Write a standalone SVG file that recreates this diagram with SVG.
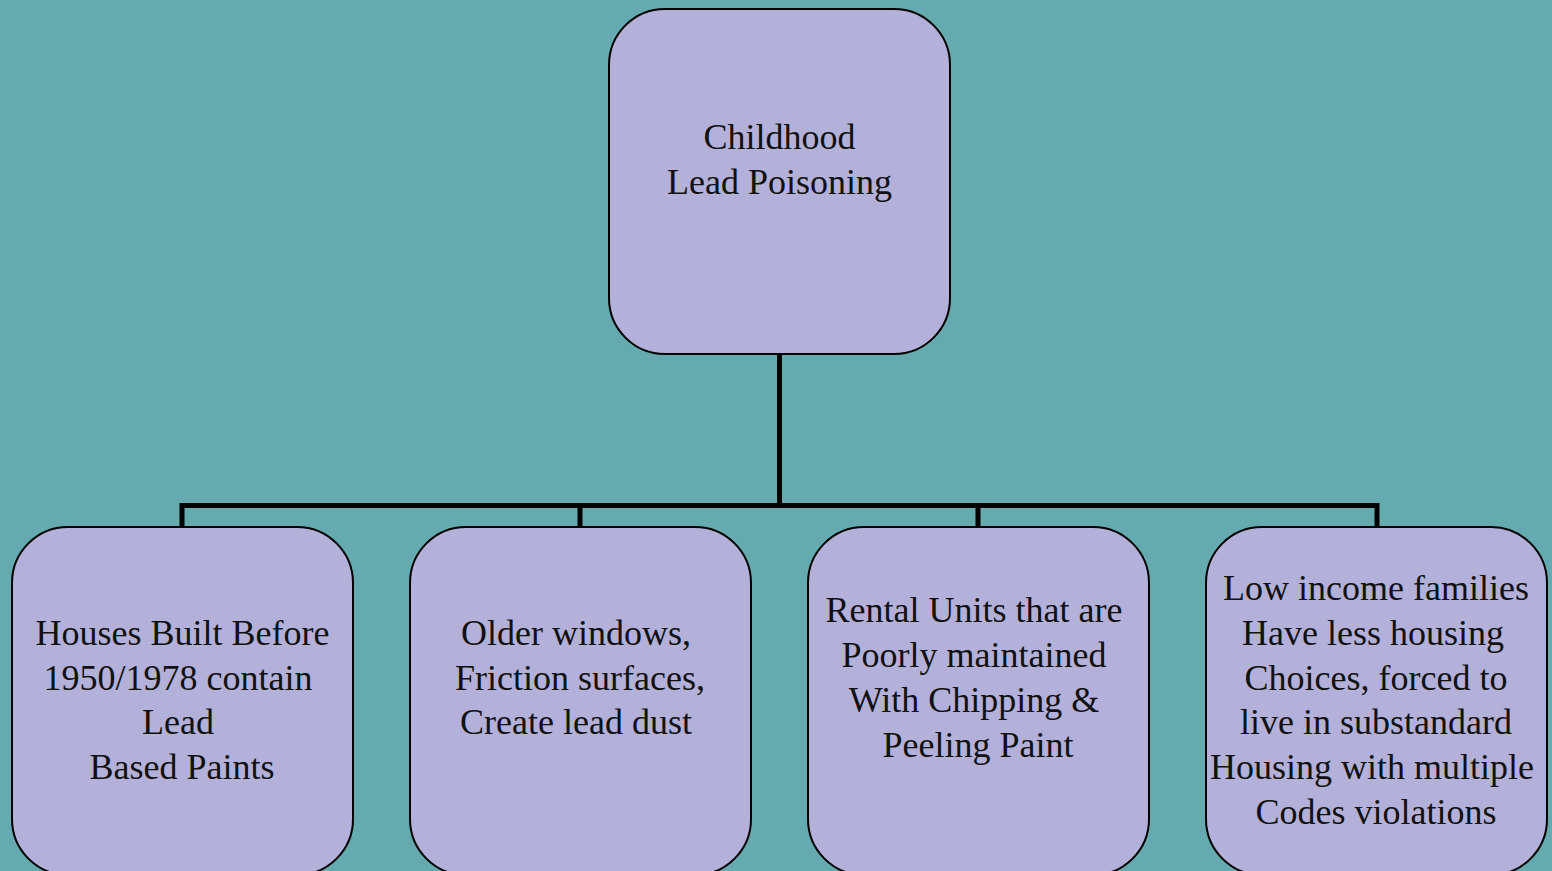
<svg xmlns="http://www.w3.org/2000/svg" width="1552" height="871" viewBox="0 0 1552 871">
  <style>
    .box { fill: #b3b0d9; stroke: #000; stroke-width: 2; }
    .lbl { font-family: "Liberation Serif", "DejaVu Serif", serif; font-size: 36px; fill: #111; text-anchor: middle; }
    .wire { fill: none; stroke: #000; stroke-width: 5; stroke-linecap: butt; stroke-linejoin: miter; }
  </style>
  <rect width="1552" height="871" fill="#64aaaf"/>

  <g id="connectors">
    <path class="wire" d="M779.5 354 V505.5"/>
    <path class="wire" d="M182 527 V505.5 H1377 V527"/>
    <path class="wire" d="M580 505.5 V527"/>
    <path class="wire" d="M978 505.5 V527"/>
  </g>

  <g id="root">
    <rect class="box" x="609" y="9" width="341" height="345" rx="56" ry="56"/>
    <text class="lbl" x="779.5" y="149">Childhood</text>
    <text class="lbl" x="779.5" y="194">Lead Poisoning</text>
  </g>

  <g id="houses">
    <rect class="box" x="12" y="527" width="341" height="348" rx="56" ry="56"/>
    <text class="lbl" x="182.5" y="645">Houses Built Before</text>
    <text class="lbl" x="178" y="690">1950/1978 contain</text>
    <text class="lbl" x="178" y="734">Lead</text>
    <text class="lbl" x="182" y="779">Based Paints</text>
  </g>

  <g id="windows">
    <rect class="box" x="410" y="527" width="341" height="348" rx="56" ry="56"/>
    <text class="lbl" x="576" y="645">Older windows,</text>
    <text class="lbl" x="580" y="690">Friction surfaces,</text>
    <text class="lbl" x="576" y="734">Create lead dust</text>
  </g>

  <g id="rentals">
    <rect class="box" x="808" y="527" width="341" height="348" rx="56" ry="56"/>
    <text class="lbl" x="974" y="622">Rental Units that are</text>
    <text class="lbl" x="974" y="667">Poorly maintained</text>
    <text class="lbl" x="974" y="712">With Chipping &amp;</text>
    <text class="lbl" x="978" y="757">Peeling Paint</text>
  </g>

  <g id="income">
    <rect class="box" x="1206" y="527" width="341" height="348" rx="56" ry="56"/>
    <text class="lbl" x="1376" y="600">Low income families</text>
    <text class="lbl" x="1373" y="645">Have less housing</text>
    <text class="lbl" x="1376" y="690">Choices, forced to</text>
    <text class="lbl" x="1376" y="734">live in substandard</text>
    <text class="lbl" x="1372" y="779">Housing with multiple</text>
    <text class="lbl" x="1376" y="824">Codes violations</text>
  </g>
</svg>
